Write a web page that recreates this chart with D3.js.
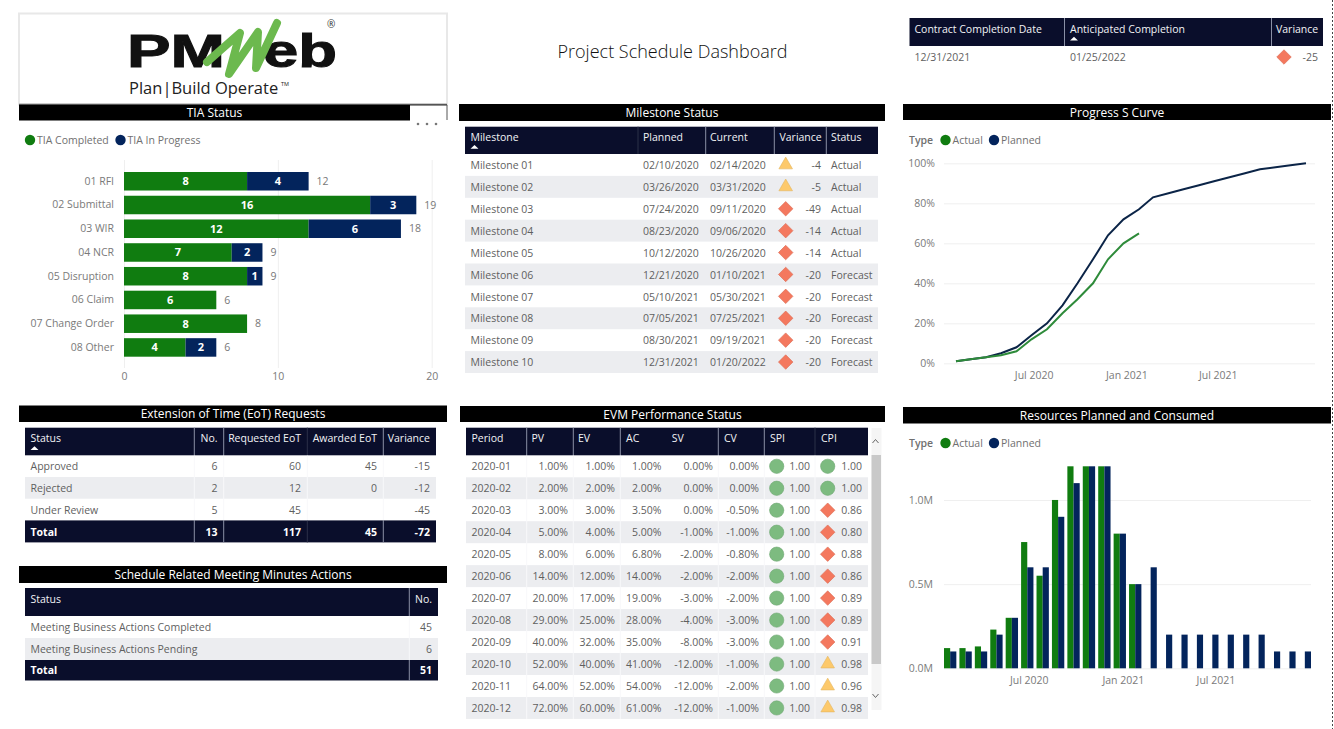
<!DOCTYPE html>
<html>
<head>
<meta charset="utf-8">
<title>Project Schedule Dashboard</title>
<script src="https://cdnjs.cloudflare.com/ajax/libs/d3/7.8.5/d3.min.js"></script>
<style>
  html, body { margin: 0; padding: 0; background: #fff; overflow: hidden; }
  svg { display: block; }
  text { font-family: "Open Sans", "Noto Sans", sans-serif; }
  .title { fill: #fff; font-size: 12px; text-anchor: middle; }
  .cell { font-size: 10.5px; fill: #5f5f5f; }
  .head { font-size: 10.5px; fill: #f2f3f6; }
  .total { font-size: 10.5px; fill: #fff; font-weight: 700; }
  .axis text { font-size: 10.5px; fill: #7a7a7a; }
  .axis path.domain { display: none; }
  .axis line { stroke: #efefef; }
  .legend { font-size: 10.5px; fill: #707070; }
</style>
</head>
<body>
<svg id="dash" width="1334" height="729"></svg>
<script>
const width = 1334;
const height = 729;

const GREEN = "#107c10";
const NAVY = "#03245c";
const HEADER = "#0a0e2b";
const STRIPE = "#ecedf0";

// TIA status
const tiaCategories = ["01 RFI", "02 Submittal", "03 WIR", "04 NCR", "05 Disruption", "06 Claim", "07 Change Order", "08 Other"];
const tiaCompleted = [8, 16, 12, 7, 8, 6, 8, 4];
const tiaInProgress = [4, 3, 6, 2, 1, 0, 0, 2];
const tiaTicks = [0, 10, 20];

// Contract completion
const completionRow = ["12/31/2021", "01/25/2022", -25];

// Milestones
const milestoneNames = ["Milestone 01", "Milestone 02", "Milestone 03", "Milestone 04", "Milestone 05", "Milestone 06", "Milestone 07", "Milestone 08", "Milestone 09", "Milestone 10"];
const milestonePlanned = ["02/10/2020", "03/26/2020", "07/24/2020", "08/23/2020", "10/12/2020", "12/21/2020", "05/10/2021", "07/05/2021", "08/30/2021", "12/31/2021"];
const milestoneCurrent = ["02/14/2020", "03/31/2020", "09/11/2020", "09/06/2020", "10/26/2020", "01/10/2021", "05/30/2021", "07/25/2021", "09/19/2021", "01/20/2022"];
const milestoneVariance = [-4, -5, -49, -14, -14, -20, -20, -20, -20, -20];
const milestoneStatus = ["Actual", "Actual", "Actual", "Actual", "Actual", "Forecast", "Forecast", "Forecast", "Forecast", "Forecast"];

// EoT requests
const eotStatus = ["Approved", "Rejected", "Under Review"];
const eotNo = [6, 2, 5];
const eotRequested = [60, 12, 45];
const eotAwarded = [45, 0, ""];
const eotVariance = [-15, -12, -45];
const eotTotal = ["Total", 13, 117, 45, -72];

// Meeting actions
const meetingStatus = ["Meeting Business Actions Completed", "Meeting Business Actions Pending"];
const meetingNo = [45, 6];
const meetingTotal = ["Total", 51];

// EVM table
const evmPeriods = ["2020-01", "2020-02", "2020-03", "2020-04", "2020-05", "2020-06", "2020-07", "2020-08", "2020-09", "2020-10", "2020-11", "2020-12"];
const evmPV = [1, 2, 3, 5, 8, 14, 20, 29, 40, 52, 64, 72];
const evmEV = [1, 2, 3, 4, 6, 12, 17, 25, 32, 40, 52, 60];
const evmAC = [1, 2, 3.5, 5, 6.8, 14, 19, 28, 35, 41, 54, 61];
const evmSV = [0, 0, 0, -1, -2, -2, -3, -4, -8, -12, -12, -12];
const evmCV = [0, 0, -0.5, -1, -0.8, -2, -2, -3, -3, -1, -2, -1];
const evmSPI = [1, 1, 1, 1, 1, 1, 1, 1, 1, 1, 1, 1];
const evmCPI = [1, 1, 0.86, 0.8, 0.88, 0.86, 0.89, 0.89, 0.91, 0.98, 0.96, 0.98];

// S curve and resources share the same months
const months = ["2020-01", "2020-02", "2020-03", "2020-04", "2020-05", "2020-06", "2020-07", "2020-08", "2020-09", "2020-10", "2020-11", "2020-12",
  "2021-01", "2021-02", "2021-03", "2021-04", "2021-05", "2021-06", "2021-07", "2021-08", "2021-09", "2021-10", "2021-11", "2021-12"];
const curvePlanned = [1, 2, 3, 5, 8, 14, 20, 29, 40, 52, 64, 72, 77, 83, 85, 87, 89, 91, 93, 95, 97, 98, 99, 100];
const curveActual = [1, 2, 3, 4, 6, 12, 17, 25, 32, 40, 52, 60, 65];
const resourcePlanned = [0.1, 0.1, 0.1, 0.2, 0.3, 0.6, 0.6, 0.9, 1.1, 1.2, 1.2, 0.8, 0.5, 0.6, 0.2, 0.2, 0.2, 0.2, 0.2, 0.2, 0.2, 0.1, 0.1, 0.1];
const resourceActual = [0.12, 0.12, 0.13, 0.23, 0.3, 0.75, 0.55, 1.0, 1.2, 1.2, 1.2, 0.8, 0.5];
const timeTicks = ["2020-07", "2021-01", "2021-07"];

const svg = d3.select("#dash");
const parseMonth = d3.timeParse("%Y-%m");
const monthEnd = m => d3.timeDay.offset(d3.timeMonth.offset(parseMonth(m), 1), -1);
const tickDates = timeTicks.map(parseMonth);
const fmtTick = d3.timeFormat("%b %Y");

function titleBar(label, x0, x1, y0, y1) {
  svg.append("rect").attr("x", x0).attr("y", y0).attr("width", x1 - x0).attr("height", y1 - y0).attr("fill", "#000");
  svg.append("text").attr("class", "title")
    .attr("x", (x0 + x1) / 2).attr("y", (y0 + y1) / 2 + 0.3).attr("dy", ".36em")
    .text(label);
}

// status icon, same thresholds for every table
function drawIcon(g, x, y, value, kind) {
  let sym, fill, rot = 0;
  if (kind === "circle") { sym = d3.symbolCircle; fill = "#7dbb80"; }
  else if (kind === "triangle") { sym = d3.symbolTriangle; fill = "#fdc96b"; }
  else { sym = d3.symbolSquare; fill = "#f4785e"; rot = 45; }
  const size = kind === "circle" ? 160 : kind === "triangle" ? 80 : 105;
  g.append("path")
    .attr("d", d3.symbol().type(sym).size(size)())
    .attr("transform", `translate(${x},${y}) rotate(${rot})`)
    .attr("fill", fill)
    .attr("stroke", d3.color(fill).darker(0.3))
    .attr("stroke-width", 0.6);
}
const milestoneIcon = v => v >= -5 ? "triangle" : "diamond";
const indexIcon = v => v >= 1 ? "circle" : v >= 0.95 ? "triangle" : "diamond";

function drawTable(t) {
  const g = svg.append("g");
  const n = t.rows.length;
  const y = d3.scaleBand().domain(d3.range(n)).range([t.top + t.headH, t.top + t.headH + n * t.rowH]);
  const bodyEnd = y.range()[1];
  const faint = t.faint || [];
  const divColor = d => faint.includes(d) ? "#2b3049" : "#8a90a6";

  g.append("rect").attr("x", t.x0).attr("y", t.top).attr("width", t.x1 - t.x0).attr("height", t.headH).attr("fill", HEADER);

  g.selectAll(".stripe")
    .data(d3.range(n).filter(i => i % 2 === 1))
    .enter().append("rect")
    .attr("x", t.x0).attr("y", d => y(d)).attr("width", t.x1 - t.x0).attr("height", y.bandwidth())
    .attr("fill", STRIPE);

  if (t.total) {
    g.append("rect").attr("x", t.x0).attr("y", bodyEnd).attr("width", t.x1 - t.x0).attr("height", t.totalH).attr("fill", HEADER);
  }

  // column dividers
  g.selectAll(".div")
    .data(t.dividers)
    .enter().append("line")
    .attr("x1", d => d).attr("x2", d => d)
    .attr("y1", t.top).attr("y2", t.top + t.headH)
    .attr("stroke", divColor);
  if (t.bodyDividers) {
    g.selectAll(".bodydiv")
      .data(t.dividers)
      .enter().append("line")
      .attr("x1", d => d).attr("x2", d => d)
      .attr("y1", t.top + t.headH).attr("y2", bodyEnd)
      .attr("stroke", "#f8f8fa");
  }
  if (t.total) {
    g.selectAll(".totdiv")
      .data(t.dividers)
      .enter().append("line")
      .attr("x1", d => d).attr("x2", d => d)
      .attr("y1", bodyEnd).attr("y2", bodyEnd + t.totalH)
      .attr("stroke", divColor);
  }

  t.cols.forEach((c, ci) => {
    g.append("text").attr("class", "head")
      .attr("x", c.headX).attr("y", t.top + t.headH * 0.39).attr("dy", ".35em")
      .attr("text-anchor", c.headAnchor || "start")
      .text(c.label);

    g.selectAll(null)
      .data(t.rows.map((r, i) => ({ v: r[ci], i })))
      .enter().append("text")
      .attr("class", "cell")
      .attr("x", c.x).attr("y", d => y(d.i) + y.bandwidth() / 2 + 0.5).attr("dy", ".35em")
      .attr("text-anchor", c.anchor || "start")
      .text(d => c.format ? c.format(d.v) : d.v);

    if (c.iconX !== undefined) {
      t.rows.forEach((r, i) => {
        drawIcon(g, c.iconX, y(i) + y.bandwidth() / 2, r[ci], c.icon(r[ci]));
      });
    }
    if (t.total && t.total[ci] !== undefined) {
      g.append("text").attr("class", "total")
        .attr("x", c.x).attr("y", bodyEnd + t.totalH / 2 + 0.5).attr("dy", ".35em")
        .attr("text-anchor", c.anchor || "start")
        .text(t.total[ci]);
    }
    if (c.sorted) {
      g.append("path")
        .attr("d", d3.symbol().type(d3.symbolTriangle).size(14)())
        .attr("transform", `translate(${c.headX + 4},${t.top + t.headH * 0.76}) scale(1.4,0.75)`)
        .attr("fill", "#fff");
    }
  });
}

function drawLogo() {
  svg.append("rect").attr("x", 19).attr("y", 13.5).attr("width", 428).attr("height", 91)
    .attr("fill", "#fff").attr("stroke", "#e8e8e8").attr("stroke-width", 2);
  svg.append("line").attr("x1", 19).attr("x2", 447).attr("y1", 104.5).attr("y2", 104.5).attr("stroke", "#555").attr("stroke-width", 1.5);

  svg.append("text").attr("x", 127).attr("y", 67).attr("textLength", 98).attr("lengthAdjust", "spacingAndGlyphs")
    .style("font-family", "'Liberation Sans', sans-serif").style("font-weight", 700).style("font-size", "46px").attr("fill", "#111")
    .attr("stroke", "#111").attr("stroke-width", 1).text("PM");
  svg.append("text").attr("x", 263).attr("y", 67).attr("textLength", 74).attr("lengthAdjust", "spacingAndGlyphs")
    .style("font-family", "'Liberation Sans', sans-serif").style("font-weight", 700).style("font-size", "46px").attr("fill", "#111")
    .attr("stroke", "#111").attr("stroke-width", 1).text("eb");
  svg.append("path")
    .attr("d", "M207,62 L240,33 L229,74 L258,32 L256,68 L277,23")
    .attr("fill", "none").attr("stroke", "#6cb94e").attr("stroke-width", 8)
    .attr("stroke-linejoin", "round").attr("stroke-linecap", "round");
  svg.append("text").attr("x", 129).attr("y", 94).style("font-size", "16.5px").attr("fill", "#222")
    .text("Plan|Build Operate");
  svg.append("text").attr("x", 281).attr("y", 86).style("font-size", "5.5px").attr("fill", "#222").text("TM");
  svg.append("text").attr("x", 327).attr("y", 28).style("font-size", "10px").attr("fill", "#333").text("®");
}

function drawLegend(items, cy) {
  items.forEach(it => {
    svg.append("circle").attr("cx", it.cx).attr("cy", cy).attr("r", 5.2).attr("fill", it.color);
    svg.append("text").attr("class", "legend").attr("x", it.cx + 7).attr("y", cy).attr("dy", ".35em").text(it.label);
  });
}

function drawTia() {
  const x = d3.scaleLinear().domain([0, 20]).range([124, 431.7]);
  const y = d3.scaleBand().domain(tiaCategories).range([172, 356.7]).paddingInner(0.22);

  drawLegend([{ cx: 30, color: GREEN, label: "TIA Completed" }, { cx: 120.5, color: NAVY, label: "TIA In Progress" }], 140);

  const axis = svg.append("g").attr("class", "axis")
    .attr("transform", "translate(0,368)")
    .call(d3.axisBottom(x).tickValues(tiaTicks).tickSize(-208).tickPadding(3));
  axis.selectAll("text").attr("y", 5);

  svg.append("g").attr("class", "axis")
    .attr("transform", "translate(124,0)")
    .call(d3.axisLeft(y).tickSize(0).tickPadding(10));

  const bars = svg.append("g");
  bars.selectAll(".done")
    .data(tiaCategories)
    .enter().append("rect")
    .attr("x", x(0)).attr("y", d => y(d)).attr("height", y.bandwidth())
    .attr("width", (d, i) => x(tiaCompleted[i]) - x(0))
    .attr("fill", GREEN);
  bars.selectAll(".prog")
    .data(tiaCategories)
    .enter().append("rect")
    .attr("x", (d, i) => x(tiaCompleted[i])).attr("y", d => y(d)).attr("height", y.bandwidth())
    .attr("width", (d, i) => x(tiaInProgress[i]) - x(0))
    .attr("fill", NAVY);

  const barLabel = (values, start) => bars.selectAll(null)
    .data(tiaCategories)
    .enter().append("text")
    .filter((d, i) => values[i] > 0)
    .attr("x", d => { const i = tiaCategories.indexOf(d); return x(start(i) + values[i] / 2); })
    .attr("y", d => y(d) + y.bandwidth() / 2).attr("dy", ".35em")
    .attr("text-anchor", "middle").style("font-size", "11px").style("font-weight", 700).attr("fill", "#fff")
    .text(d => values[tiaCategories.indexOf(d)]);
  barLabel(tiaCompleted, () => 0);
  barLabel(tiaInProgress, i => tiaCompleted[i]);

  bars.selectAll(".tot")
    .data(tiaCategories)
    .enter().append("text")
    .attr("x", (d, i) => x(tiaCompleted[i] + tiaInProgress[i]) + 8)
    .attr("y", d => y(d) + y.bandwidth() / 2).attr("dy", ".35em")
    .style("font-size", "10.5px").attr("fill", "#777")
    .text((d, i) => tiaCompleted[i] + tiaInProgress[i]);
}

function drawCurve() {
  const dates = months.map(monthEnd);
  const x = d3.scaleTime().domain([dates[0], dates[dates.length - 1]]).range([956, 1306]);
  const xLabels = d3.scaleTime().domain(x.domain()).range([957, 1310]);
  const y = d3.scaleLinear().domain([0, 100]).range([363.3, 163.3]);

  svg.append("text").attr("class", "legend").attr("x", 909).attr("y", 140).attr("dy", ".35em").style("font-weight", 600).text("Type");
  drawLegend([{ cx: 945.5, color: GREEN, label: "Actual" }, { cx: 994, color: NAVY, label: "Planned" }], 140);

  const yAxis = svg.append("g").attr("class", "axis").attr("transform", "translate(944,0)")
    .call(d3.axisLeft(y).ticks(5).tickFormat(d => d + "%").tickSize(-371).tickPadding(9));
  yAxis.selectAll("line").attr("stroke", "#eeeeee");

  svg.append("g").attr("class", "axis").attr("transform", "translate(0,363.3)")
    .call(d3.axisBottom(xLabels).tickValues(tickDates).tickFormat(fmtTick).tickSize(0).tickPadding(8));

  const line = d3.line().x((d, i) => x(dates[i])).y(d => y(d));
  svg.append("path").datum(curvePlanned).attr("d", line)
    .attr("fill", "none").attr("stroke", "#0b2447").attr("stroke-width", 2);
  svg.append("path").datum(curveActual).attr("d", line)
    .attr("fill", "none").attr("stroke", "#2e8b3a").attr("stroke-width", 2);
}

function drawResources() {
  const x0 = d3.scaleBand().domain(months).range([944, 1311]).paddingInner(0.2);
  const x1 = d3.scaleBand().domain(["Actual", "Planned"]).range([0, x0.bandwidth()]);
  const y = d3.scaleLinear().domain([0, 1.2]).range([668.3, 466.3]);

  svg.append("text").attr("class", "legend").attr("x", 909).attr("y", 443).attr("dy", ".35em").style("font-weight", 600).text("Type");
  drawLegend([{ cx: 945.5, color: GREEN, label: "Actual" }, { cx: 994, color: NAVY, label: "Planned" }], 443);

  svg.append("g").attr("class", "axis").attr("transform", "translate(944,0)")
    .call(d3.axisLeft(y).tickValues([0, 0.5, 1]).tickFormat(d => d3.format(".1f")(d) + "M").tickSize(-367).tickPadding(11));

  // time axis laid over the month bands
  const dates = months.map(monthEnd);
  const xTime = d3.scaleTime().domain([dates[0], dates[dates.length - 1]]).range([951, 1309]);
  svg.append("g").attr("class", "axis").attr("transform", "translate(0,668.3)")
    .call(d3.axisBottom(xTime).tickValues(tickDates).tickFormat(fmtTick).tickSize(0).tickPadding(8));

  svg.append("g").selectAll("rect")
    .data(resourceActual)
    .enter().append("rect")
    .attr("x", (d, i) => x0(months[i]) + x1("Actual"))
    .attr("y", d => y(d)).attr("width", x1.bandwidth())
    .attr("height", d => y(0) - y(d))
    .attr("fill", GREEN);
  svg.append("g").selectAll("rect")
    .data(resourcePlanned)
    .enter().append("rect")
    .attr("x", (d, i) => x0(months[i]) + x1("Planned"))
    .attr("y", d => y(d)).attr("width", x1.bandwidth())
    .attr("height", d => y(0) - y(d))
    .attr("fill", NAVY);
}

function drawScrollbar() {
  svg.append("rect").attr("x", 871.5).attr("y", 428).attr("width", 10).attr("height", 282).attr("fill", "#f5f5f5");
  svg.append("rect").attr("x", 871.5).attr("y", 455).attr("width", 9.5).attr("height", 209).attr("fill", "#c9c9c9");
  svg.append("path").attr("d", "M872.5,443 L875.5,439.5 L878.5,443").attr("fill", "none").attr("stroke", "#666");
  svg.append("path").attr("d", "M872.5,694 L875.5,697.5 L878.5,694").attr("fill", "none").attr("stroke", "#666");
}

// logo and page title
drawLogo();
svg.append("text").attr("x", 672.5).attr("y", 52).attr("dy", ".35em").attr("text-anchor", "middle")
  .style("font-size", "18px").style("font-weight", 300).attr("fill", "#111").text("Project Schedule Dashboard");

// title bars
titleBar("TIA Status", 19, 410, 105, 120.5);
svg.append("path").attr("d", "M410,105 H447 V120").attr("fill", "none").attr("stroke", "#555");
svg.append("g").selectAll("circle").data([418, 427, 436]).enter().append("circle")
  .attr("cx", d => d).attr("cy", 124).attr("r", 1.3).attr("fill", "#777");
titleBar("Milestone Status", 459, 885, 104, 121);
titleBar("Progress S Curve", 903, 1331, 104, 120);
titleBar("Extension of Time (EoT) Requests", 19, 447, 405.5, 422);
titleBar("Schedule Related Meeting Minutes Actions", 19, 447, 566, 583);
titleBar("EVM Performance Status", 460, 885, 406, 422);
titleBar("Resources Planned and Consumed", 903, 1331, 407, 423.5);

drawTia();
drawCurve();
drawResources();

drawTable({
  x0: 909.5, x1: 1323, top: 18, headH: 28, rowH: 22,
  rows: [completionRow], dividers: [1064.5, 1271.5],
  cols: [
    { label: "Contract Completion Date", headX: 914.5, x: 914.5 },
    { label: "Anticipated Completion", headX: 1070, x: 1070, sorted: true },
    { label: "Variance", headX: 1276, x: 1318, anchor: "end", iconX: 1284, icon: milestoneIcon }
  ]
});

drawTable({
  x0: 465, x1: 878, top: 126.7, headH: 27.3, rowH: 21.9,
  rows: d3.zip(milestoneNames, milestonePlanned, milestoneCurrent, milestoneVariance, milestoneStatus),
  dividers: [638, 705.7, 774.3, 826.3], faint: [638],
  cols: [
    { label: "Milestone", headX: 470.5, x: 470.5, sorted: true },
    { label: "Planned", headX: 643, x: 643 },
    { label: "Current", headX: 710, x: 710 },
    { label: "Variance", headX: 779.5, x: 821, anchor: "end", iconX: 785.7, icon: milestoneIcon },
    { label: "Status", headX: 831, x: 831 }
  ]
});

drawTable({
  x0: 25, x1: 436, top: 427.7, headH: 27.6, rowH: 21.7, totalH: 22, bodyDividers: true,
  rows: d3.zip(eotStatus, eotNo, eotRequested, eotAwarded, eotVariance),
  total: eotTotal,
  dividers: [194.3, 223.7, 307.3, 383.3], faint: [307.3],
  cols: [
    { label: "Status", headX: 30.5, x: 30.5, sorted: true },
    { label: "No.", headX: 217.5, headAnchor: "end", x: 217.5, anchor: "end" },
    { label: "Requested EoT", headX: 301, headAnchor: "end", x: 301, anchor: "end" },
    { label: "Awarded EoT", headX: 377, headAnchor: "end", x: 377, anchor: "end" },
    { label: "Variance", headX: 430, headAnchor: "end", x: 430, anchor: "end" }
  ]
});

drawTable({
  x0: 25, x1: 438, top: 588, headH: 28, rowH: 22, totalH: 20.5, bodyDividers: true,
  rows: d3.zip(meetingStatus, meetingNo),
  total: meetingTotal,
  dividers: [409.3],
  cols: [
    { label: "Status", headX: 30.5, x: 30.5 },
    { label: "No.", headX: 432, headAnchor: "end", x: 432, anchor: "end" }
  ]
});

const pct = v => v.toFixed(2) + "%";
const fix2 = v => v.toFixed(2);
drawTable({
  x0: 466, x1: 868, top: 427.7, headH: 27.6, rowH: 21.97, bodyDividers: true,
  rows: d3.zip(evmPeriods, evmPV, evmEV, evmAC, evmSV, evmCV, evmSPI, evmCPI),
  dividers: [526.7, 573.3, 620.3, 718.3, 764.3, 815], faint: [815],
  cols: [
    { label: "Period", headX: 471.5, x: 471.5 },
    { label: "PV", headX: 531.5, x: 568, anchor: "end", format: pct },
    { label: "EV", headX: 578, x: 615, anchor: "end", format: pct },
    { label: "AC", headX: 626, x: 661.5, anchor: "end", format: pct },
    { label: "SV", headX: 671.7, x: 713, anchor: "end", format: pct },
    { label: "CV", headX: 724, x: 759, anchor: "end", format: pct },
    { label: "SPI", headX: 770, x: 810, anchor: "end", format: fix2, iconX: 776.7, icon: indexIcon },
    { label: "CPI", headX: 821, x: 862, anchor: "end", format: fix2, iconX: 827.7, icon: indexIcon }
  ]
});
drawScrollbar();

// page edge guide
svg.append("line").attr("x1", 1332.5).attr("x2", 1332.5).attr("y1", 0).attr("y2", height)
  .attr("stroke", "#444").attr("stroke-dasharray", "2,2");
</script>
</body>
</html>
